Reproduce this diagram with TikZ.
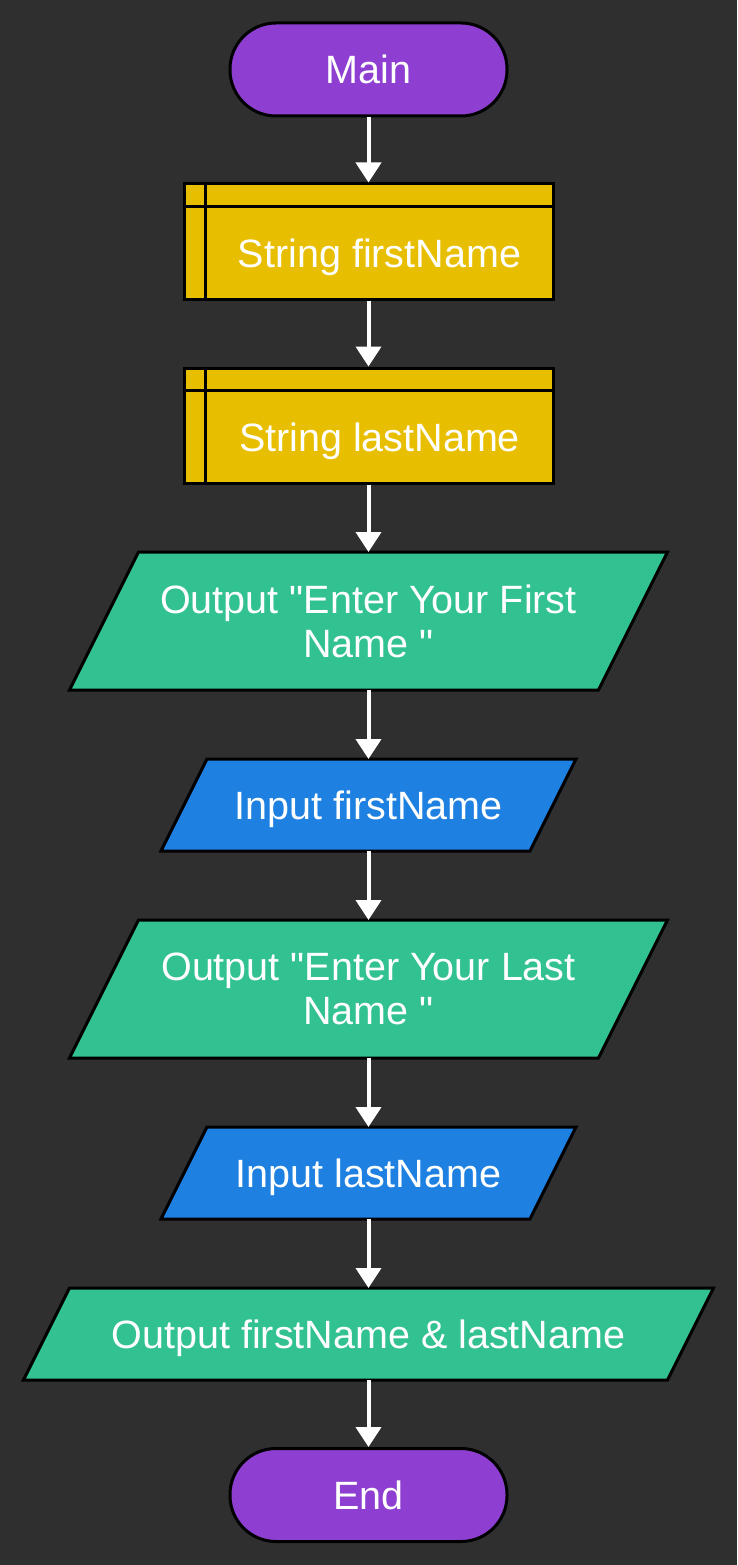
\documentclass[tikz,border=0pt]{standalone}
\usepackage{fontspec}
\setmainfont[Ligatures=TeXOff]{Liberation Sans}
\usetikzlibrary{arrows.meta}
\definecolor{bg}{HTML}{2F2F2F}
\definecolor{purp}{HTML}{8E3FD1}
\definecolor{yel}{HTML}{E8BE00}
\definecolor{grn}{HTML}{32C191}
\definecolor{blu}{HTML}{1E80E0}
\begin{document}
\begin{tikzpicture}[x=1pt,y=-1pt,
  txt/.style={text=white, font=\fontsize{39.5}{44}\selectfont, align=center, inner sep=0pt},
  txtone/.style={txt, text height=28pt, text depth=0pt},
  term/.style={draw=black, line width=3pt, fill=purp, rounded corners=46pt,
    minimum width=277pt, minimum height=93pt, inner sep=0pt, txtone},
  store/.style={draw=black, line width=3pt, fill=yel, minimum width=369pt,
    minimum height=115pt, inner sep=0pt},
  pbox/.style={inner sep=0pt, outer sep=1.5pt},
  para/.style={draw=black, line width=3pt, fill=#1},
  arr/.style={draw=white, line width=4pt, -{Triangle[width=25pt,length=20pt]}}
]
\fill[bg] (0,0) rectangle (737,1565);
\useasboundingbox (0,0) rectangle (737,1565);

% Main
\node[term] (main) at (368.5,69.5) {Main};

% String firstName
\node[store] (s1) at (368.5,241.5) {};
\draw[line width=3pt] ([yshift=-24pt]s1.north west) -- ([yshift=-24pt]s1.north east);
\draw[line width=3pt] ([xshift=23pt]s1.north west) -- ([xshift=23pt]s1.south west);
\node[txtone] (s1t) at (379.5,253.5) {String firstName};

% String lastName
\node[store] (s2) at (368.5,425.5) {};
\draw[line width=3pt] ([yshift=-24pt]s2.north west) -- ([yshift=-24pt]s2.north east);
\draw[line width=3pt] ([xshift=23pt]s2.north west) -- ([xshift=23pt]s2.south west);
\node[txtone] (s2t) at (379.5,437.5) {String lastName};

% Output first
\node[pbox, minimum width=595pt, minimum height=135pt] (o1) at (368.5,621) {};
\draw[para=grn] ([xshift=69pt]o1.north west) -- (o1.north east) -- ([xshift=-69pt]o1.south east) -- (o1.south west) -- cycle;
\node[txt] (o1t) at (o1.center) {Output "Enter Your First\\Name "};

% Input firstName
\node[pbox, minimum width=412pt, minimum height=89pt] (i1) at (368.5,805) {};
\draw[para=blu] ([xshift=46pt]i1.north west) -- (i1.north east) -- ([xshift=-46pt]i1.south east) -- (i1.south west) -- cycle;
\node[txtone] (i1t) at (i1.center) {Input firstName};

% Output last
\node[pbox, minimum width=595pt, minimum height=135pt] (o2) at (368.5,989) {};
\draw[para=grn] ([xshift=69pt]o2.north west) -- (o2.north east) -- ([xshift=-69pt]o2.south east) -- (o2.south west) -- cycle;
\node[txt] (o2t) at (o2.center) {Output "Enter Your Last\\Name "};

% Input lastName
\node[pbox, minimum width=412pt, minimum height=89pt] (i2) at (368.5,1173) {};
\draw[para=blu] ([xshift=46pt]i2.north west) -- (i2.north east) -- ([xshift=-46pt]i2.south east) -- (i2.south west) -- cycle;
\node[txtone] (i2t) at (i2.center) {Input lastName};

% Output both
\node[pbox, minimum width=687pt, minimum height=89pt] (o3) at (368.5,1334) {};
\draw[para=grn] ([xshift=46pt]o3.north west) -- (o3.north east) -- ([xshift=-46pt]o3.south east) -- (o3.south west) -- cycle;
\node[txtone] (o3t) at (o3.center) {Output firstName \& lastName};

% End
\node[term] (end) at (368.5,1495) {End};

% connectors
\draw[arr] (main.south) -- (s1.north);
\draw[arr] (s1.south) -- (s2.north);
\draw[arr] (s2.south) -- (o1.north);
\draw[arr] (o1.south) -- (i1.north);
\draw[arr] (i1.south) -- (o2.north);
\draw[arr] (o2.south) -- (i2.north);
\draw[arr] (i2.south) -- (o3.north);
\draw[arr] (o3.south) -- (end.north);
\end{tikzpicture}
\end{document}
